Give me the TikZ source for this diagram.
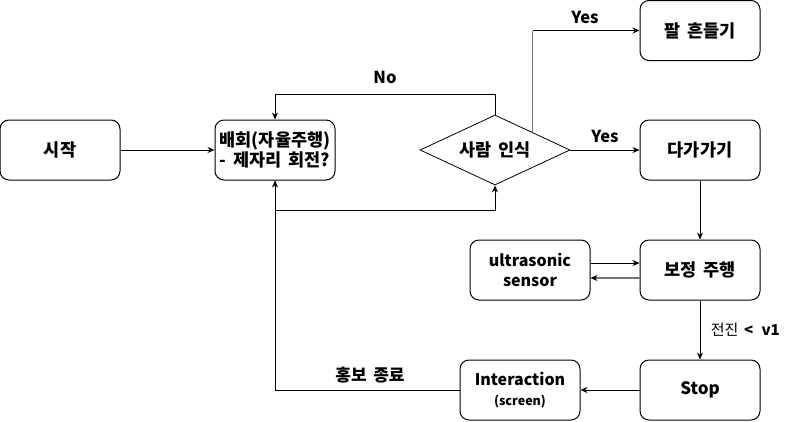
\documentclass[tikz,border=0pt]{standalone}
\usepackage{fontspec}
\setmainfont{Noto Sans CJK KR}[WordSpace=1.7]
\usetikzlibrary{shapes.geometric,arrows.meta}
\tikzset{
  box/.style={draw, line width=1pt, rounded corners=9pt, minimum width=120pt, minimum height=60pt, align=center, font=\fontsize{17.5}{20.5}\selectfont\bfseries, inner sep=1pt},
  dia/.style={draw, diamond, line width=0.8pt, minimum width=150pt, minimum height=70pt, aspect=2.14, inner sep=0pt, font=\fontsize{17.5}{20}\selectfont\bfseries},
  arr/.style={line width=0.9pt, -{Stealth[length=7pt,width=6pt]}},
  greyarr/.style={line width=1.4pt, draw=black!55, -{Stealth[length=7pt,width=6pt,fill=black,color=black]}},
  lbl/.style={font=\fontsize{16.5}{18}\selectfont\bfseries, inner sep=0pt},
}
\begin{document}
\begin{tikzpicture}[x=1pt,y=-1pt]
\useasboundingbox (0,0) rectangle (791,421);
\node[box] (start) at (60,150) {시작};
\node[box] (wander) at (275,150) {배회(자율주행)\\- 제자리 회전?};
\node[dia] (dec) at (495,150) {사람 인식};
\node[box] (arm) at (700,30.5) {팔 흔들기};
\node[box] (appr) at (700,150) {다가가기};
\node[box] (corr) at (700,270) {보정 주행};
\node[box] (sens) at (530,270) {\fontsize{16}{21}\selectfont\bfseries ultrasonic\\\fontsize{16}{21}\selectfont\bfseries sensor};
\node[box] (stop) at (700,390) {\fontsize{17}{20}\selectfont\bfseries Stop};
\node[box] (inter) at (520,390) {\fontsize{16}{21}\selectfont\bfseries Interaction\\\fontsize{12.5}{16}\selectfont\bfseries (screen)};
\coordinate (yc) at (dec.north east |- arm.west);
\draw[arr] (start) -- (wander);
\draw[arr] (dec.north) -- ++(0,-20) -| (wander.north);
\draw[arr] (wander.south) -- ++(0,30) -| (dec.south);
\draw[line width=1.5pt, draw=black!55] (dec.north east) -- (yc);
\draw[arr] (yc) -- (arm.west);
\draw[arr] (dec.east) -- (appr.west);
\draw[arr] (appr.south) -- (corr.north);
\draw[arr] ([yshift=7pt]sens.east) -- ([yshift=7pt]corr.west);
\draw[greyarr] ([yshift=-8pt]corr.west) -- ([yshift=-8pt]sens.east);
\draw[arr] (corr.south) -- node[right=7pt, font=\fontsize{15}{18}\selectfont] {전진 \textbf{< \,v1}} (stop.north);
\draw[arr] (stop.west) -- (inter.east);
\draw[arr] (inter.west) -| (wander.south);
\node[lbl] (no) at (385,77) {No};
\node[lbl] (yes1) at (585,17) {Yes};
\node[lbl] (yes2) at (605,136) {Yes};
\node[lbl, font=\fontsize{17}{18}\selectfont\bfseries] (end) at (370,375) {홍보 종료};
\end{tikzpicture}
\end{document}
